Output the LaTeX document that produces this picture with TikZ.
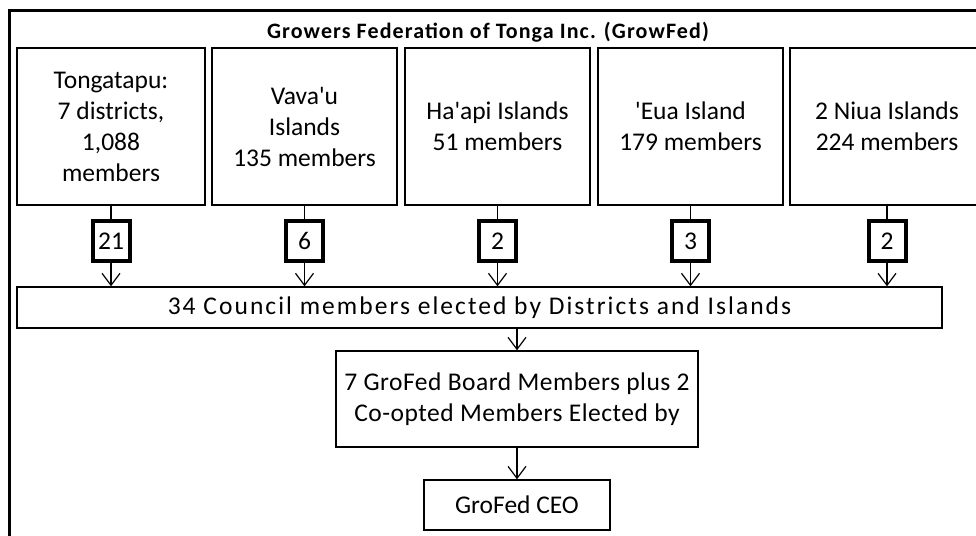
\documentclass[tikz,border=0pt]{standalone}
\usepackage{fontspec}
\setmainfont{Carlito}[Ligatures=TeXOff]
\usetikzlibrary{arrows.meta}
\begin{document}
\begin{tikzpicture}[x=1pt,y=-1pt,
  txt/.style={font=\fontsize{25.5}{31}\selectfont},
  island/.style={draw,line width=1.4pt,rectangle,minimum height=157pt,inner sep=0pt,align=center,txt},
  numbox/.style={draw,line width=4pt,rectangle,minimum width=37pt,minimum height=40pt,inner sep=0pt,txt},
  plain/.style={draw,line width=1.4pt,rectangle,inner sep=0pt,align=center,txt},
  link/.style={line width=1.2pt},
  arr/.style={line width=1.2pt,-{Straight Barb[length=12pt,width=18pt,line width=1.2pt]}}
]
\clip (0,0) rectangle (976,535);
\fill[white] (0,0) rectangle (976,535);
% outer frame
\draw[line width=3pt] (9,540) -- (9,10.5) -- (990,10.5);
% title
\node[font=\fontsize{22}{26}\selectfont\bfseries\addfontfeatures{LetterSpace=5}] (title) at (488,32) {Growers Federation of Tonga Inc. (GrowFed)};
% island boxes
\node[island,minimum width=188pt] (t1) at (111,126.5) {Tongatapu:\\7 districts,\\1,088\\members};
\node[island,minimum width=185pt] (t2) at (304.5,126.5) {Vava'u\\Islands\\135 members};
\node[island,minimum width=185pt] (t3) at (497.5,126.5) {Ha'api Islands\\51 members};
\node[island,minimum width=185pt] (t4) at (690.5,126.5) {'Eua Island\\179 members};
\node[island,minimum width=194pt] (t5) at (887,126.5) {2 Niua Islands\\224 members};
% number boxes
\node[numbox] (n1) at (111,241) {21};
\node[numbox] (n2) at (304.5,241) {6};
\node[numbox] (n3) at (497.5,241) {2};
\node[numbox] (n4) at (690.5,241) {3};
\node[numbox] (n5) at (887,241) {2};
% council
\node[plain,minimum width=925pt,minimum height=41pt,font=\fontsize{25.5}{31}\selectfont\addfontfeatures{LetterSpace=8}] (council) at (479.5,307.5) {34 Council members elected by Districts and Islands};
% board
\node[plain,minimum width=362pt,minimum height=96pt,font=\fontsize{25.5}{31}\selectfont\addfontfeatures{LetterSpace=2}] (board) at (517,399) {7 GroFed Board Members plus 2\\Co-opted Members Elected by};
% ceo
\node[plain,minimum width=186pt,minimum height=50pt] (ceo) at (517,505) {GroFed CEO};
% connectors
\foreach \i in {1,...,5}{
  \draw[link] (t\i.south) -- (n\i.north);
  \draw[arr] (n\i.south) -- (n\i.south |- council.north);
}
\draw[arr] (board.north |- council.south) -- (board.north);
\draw[arr] (board.south) -- (ceo.north);
\end{tikzpicture}
\end{document}
